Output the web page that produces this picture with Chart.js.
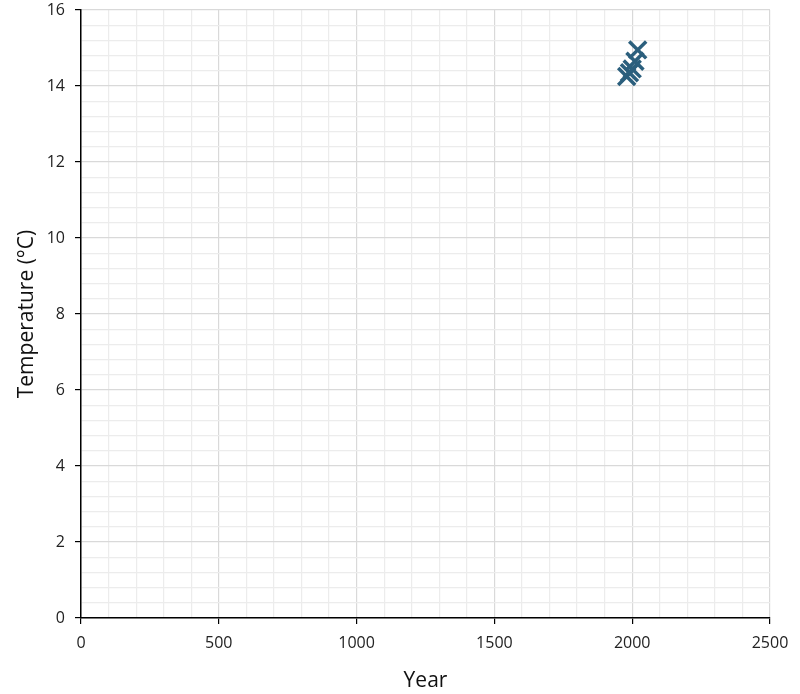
<!DOCTYPE html>
<html>
<head>
<meta charset="utf-8">
<script src="https://cdn.jsdelivr.net/npm/chart.js@4"></script>
<style>
html,body{margin:0;padding:0;background:#fff;}
#wrap{width:800px;height:694px;}
</style>
</head>
<body>
<div id="wrap"><canvas id="c" width="800" height="694"></canvas></div>
<script>
const years = [1980, 1990, 2000, 2010, 2020];
const temps = [14.25, 14.35, 14.45, 14.65, 14.95];
const xTickLabels = [0, 500, 1000, 1500, 2000, 2500];
const yTickLabels = [0, 2, 4, 6, 8, 10, 12, 14, 16];

const points = years.map((y, i) => ({x: y, y: temps[i]}));
const FONT = "'Open Sans', 'Noto Sans', sans-serif";
const isMajor = (v, step) => Math.abs(v / step - Math.round(v / step)) < 1e-6;

new Chart(document.getElementById('c'), {
  type: 'scatter',
  data: {
    datasets: [{
      data: points,
      pointStyle: 'crossRot',
      pointRadius: 12,
      pointHoverRadius: 12,
      borderColor: '#2b5f7d',
      backgroundColor: '#2b5f7d',
      pointBorderWidth: 3.5,
      showLine: false
    }]
  },
  options: {
    responsive: false,
    animation: false,
    devicePixelRatio: 1,
    layout: {autoPadding: false, padding: {left: 14, right: 30, top: 10, bottom: 0}},
    plugins: {legend: {display: false}, tooltip: {enabled: false}},
    scales: {
      x: {
        type: 'linear',
        min: 0, max: 2500,
        afterFit: s => { s.height = 76; },
        border: {color: '#000', width: 1.5},
        grid: {
          color: ctx => isMajor(ctx.tick.value, 500) ? '#d9d9d9' : '#ececec',
          tickColor: ctx => isMajor(ctx.tick.value, 500) ? '#000' : 'rgba(0,0,0,0)',
          tickLength: 6,
          lineWidth: 1.2
        },
        ticks: {
          stepSize: 100,
          autoSkip: false,
          maxTicksLimit: 100,
          maxRotation: 0,
          padding: 10,
          color: '#222',
          font: {family: FONT, size: 16},
          callback: v => xTickLabels.includes(Math.round(v)) && isMajor(v, 500) ? String(Math.round(v)) : ''
        },
        title: {
          display: true,
          text: 'Year',
          color: '#111',
          font: {family: FONT, size: 21},
          padding: {top: 0, bottom: 0}
        }
      },
      y: {
        type: 'linear',
        min: 0, max: 16,
        afterFit: s => { s.width = 67; s.paddingTop = 0; s.paddingBottom = 0; },
        border: {color: '#000', width: 1.5},
        grid: {
          color: ctx => isMajor(ctx.tick.value, 2) ? '#d9d9d9' : '#ececec',
          tickColor: ctx => isMajor(ctx.tick.value, 2) ? '#000' : 'rgba(0,0,0,0)',
          tickLength: 6,
          lineWidth: 1.2
        },
        ticks: {
          stepSize: 0.4,
          autoSkip: false,
          maxTicksLimit: 100,
          padding: 10,
          color: '#222',
          font: {family: FONT, size: 16},
          callback: v => {
            if (!isMajor(v, 2)) return '';
            const r = Math.round(v);
            return yTickLabels.includes(r) ? String(r) : '';
          }
        },
        title: {
          display: true,
          text: 'Temperature (°C)',
          color: '#111',
          font: {family: FONT, size: 21},
          padding: {top: 0, bottom: 0}
        }
      }
    }
  }
});
</script>
</body>
</html>
